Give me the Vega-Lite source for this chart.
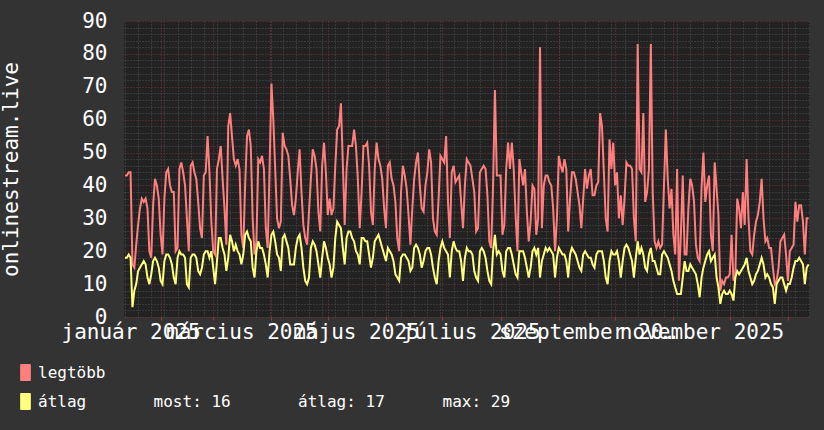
{
"$schema":"https://vega.github.io/schema/vega-lite/v6.json",
"width":686,"height":296,
"autosize":"none",
"padding":{"left":124,"top":21,"right":14,"bottom":113},
"background":"#333333",
"config":{
 "view":{"fill":"#222222","stroke":null},
 "font":"DejaVu Sans Mono",
 "axis":{"labelFont":"DejaVu Sans Mono","titleFont":"DejaVu Sans Mono","labelColor":"#ffffff","titleColor":"#ffffff","domain":false,"labelFontSize":21,"titleFontSize":21,"titleFontWeight":"normal","labelFontWeight":"normal"}
},
"datasets":{"t":[
{"d":"2025-01-13","m":43,"a":18},{"d":"2025-01-14","m":43,"a":18},{"d":"2025-01-15","m":44,"a":19},{"d":"2025-01-16","m":44,"a":18},{"d":"2025-01-17","m":16,"a":3},{"d":"2025-01-18","m":15,"a":8},{"d":"2025-01-19","m":22,"a":10},{"d":"2025-01-20","m":28,"a":14},{"d":"2025-01-21","m":33,"a":15},{"d":"2025-01-22","m":36,"a":16},{"d":"2025-01-23","m":35,"a":17},{"d":"2025-01-24","m":36,"a":16},{"d":"2025-01-25","m":33,"a":12},{"d":"2025-01-26","m":20,"a":10},{"d":"2025-01-27","m":18,"a":13},{"d":"2025-01-28","m":34,"a":17},{"d":"2025-01-29","m":42,"a":18},{"d":"2025-01-30","m":40,"a":17},{"d":"2025-01-31","m":36,"a":15},
{"d":"2025-02-01","m":25,"a":11},{"d":"2025-02-02","m":19,"a":10},{"d":"2025-02-03","m":36,"a":17},{"d":"2025-02-04","m":44,"a":19},{"d":"2025-02-05","m":45,"a":19},{"d":"2025-02-06","m":40,"a":18},{"d":"2025-02-07","m":38,"a":16},{"d":"2025-02-08","m":38,"a":12},{"d":"2025-02-09","m":20,"a":10},{"d":"2025-02-10","m":21,"a":18},{"d":"2025-02-11","m":45,"a":20},{"d":"2025-02-12","m":47,"a":19},{"d":"2025-02-13","m":44,"a":19},{"d":"2025-02-14","m":40,"a":18},{"d":"2025-02-15","m":30,"a":10},{"d":"2025-02-16","m":20,"a":9},{"d":"2025-02-17","m":46,"a":18},{"d":"2025-02-18","m":47,"a":19},{"d":"2025-02-19","m":44,"a":19},{"d":"2025-02-20","m":42,"a":18},{"d":"2025-02-21","m":35,"a":14},{"d":"2025-02-22","m":27,"a":13},{"d":"2025-02-23","m":24,"a":15},{"d":"2025-02-24","m":43,"a":19},{"d":"2025-02-25","m":44,"a":20},{"d":"2025-02-26","m":55,"a":20},{"d":"2025-02-27","m":44,"a":18},{"d":"2025-02-28","m":29,"a":20},
{"d":"2025-03-01","m":20,"a":15},{"d":"2025-03-02","m":19,"a":10},{"d":"2025-03-03","m":45,"a":17},{"d":"2025-03-04","m":48,"a":24},{"d":"2025-03-05","m":52,"a":24},{"d":"2025-03-06","m":42,"a":21},{"d":"2025-03-07","m":33,"a":19},{"d":"2025-03-08","m":22,"a":14},{"d":"2025-03-09","m":58,"a":18},{"d":"2025-03-10","m":62,"a":25},{"d":"2025-03-11","m":55,"a":23},{"d":"2025-03-12","m":48,"a":20},{"d":"2025-03-13","m":46,"a":22},{"d":"2025-03-14","m":48,"a":20},{"d":"2025-03-15","m":45,"a":19},{"d":"2025-03-16","m":25,"a":16},{"d":"2025-03-17","m":21,"a":19},{"d":"2025-03-18","m":40,"a":25},{"d":"2025-03-19","m":55,"a":26},{"d":"2025-03-20","m":57,"a":24},{"d":"2025-03-21","m":52,"a":23},{"d":"2025-03-22","m":30,"a":15},{"d":"2025-03-23","m":19,"a":12},{"d":"2025-03-24","m":23,"a":20},{"d":"2025-03-25","m":48,"a":23},{"d":"2025-03-26","m":47,"a":21},{"d":"2025-03-27","m":49,"a":21},{"d":"2025-03-28","m":45,"a":19},{"d":"2025-03-29","m":27,"a":16},{"d":"2025-03-30","m":21,"a":12},{"d":"2025-03-31","m":45,"a":20},
{"d":"2025-04-01","m":71,"a":25},{"d":"2025-04-02","m":60,"a":26},{"d":"2025-04-03","m":45,"a":23},{"d":"2025-04-04","m":30,"a":19},{"d":"2025-04-05","m":27,"a":18},{"d":"2025-04-06","m":29,"a":14},{"d":"2025-04-07","m":56,"a":24},{"d":"2025-04-08","m":52,"a":25},{"d":"2025-04-09","m":51,"a":23},{"d":"2025-04-10","m":49,"a":21},{"d":"2025-04-11","m":42,"a":16},{"d":"2025-04-12","m":34,"a":16},{"d":"2025-04-13","m":31,"a":16},{"d":"2025-04-14","m":36,"a":21},{"d":"2025-04-15","m":44,"a":24},{"d":"2025-04-16","m":51,"a":25},{"d":"2025-04-17","m":38,"a":21},{"d":"2025-04-18","m":28,"a":15},{"d":"2025-04-19","m":24,"a":11},{"d":"2025-04-20","m":22,"a":10},{"d":"2025-04-21","m":32,"a":12},{"d":"2025-04-22","m":42,"a":21},{"d":"2025-04-23","m":51,"a":23},{"d":"2025-04-24","m":49,"a":22},{"d":"2025-04-25","m":45,"a":20},{"d":"2025-04-26","m":32,"a":16},{"d":"2025-04-27","m":26,"a":12},{"d":"2025-04-28","m":46,"a":18},{"d":"2025-04-29","m":53,"a":23},{"d":"2025-04-30","m":44,"a":21},
{"d":"2025-05-01","m":31,"a":18},{"d":"2025-05-02","m":36,"a":16},{"d":"2025-05-03","m":31,"a":12},{"d":"2025-05-04","m":33,"a":15},{"d":"2025-05-05","m":46,"a":24},{"d":"2025-05-06","m":57,"a":29},{"d":"2025-05-07","m":58,"a":28},{"d":"2025-05-08","m":65,"a":27},{"d":"2025-05-09","m":47,"a":21},{"d":"2025-05-10","m":28,"a":16},{"d":"2025-05-11","m":45,"a":24},{"d":"2025-05-12","m":52,"a":26},{"d":"2025-05-13","m":52,"a":26},{"d":"2025-05-14","m":52,"a":24},{"d":"2025-05-15","m":57,"a":23},{"d":"2025-05-16","m":52,"a":20},{"d":"2025-05-17","m":42,"a":19},{"d":"2025-05-18","m":27,"a":16},{"d":"2025-05-19","m":38,"a":24},{"d":"2025-05-20","m":52,"a":24},{"d":"2025-05-21","m":52,"a":23},{"d":"2025-05-22","m":53,"a":23},{"d":"2025-05-23","m":46,"a":19},{"d":"2025-05-24","m":32,"a":15},{"d":"2025-05-25","m":28,"a":18},{"d":"2025-05-26","m":45,"a":23},{"d":"2025-05-27","m":53,"a":24},{"d":"2025-05-28","m":48,"a":25},{"d":"2025-05-29","m":46,"a":23},{"d":"2025-05-30","m":42,"a":21},{"d":"2025-05-31","m":33,"a":19},
{"d":"2025-06-01","m":27,"a":17},{"d":"2025-06-02","m":46,"a":21},{"d":"2025-06-03","m":47,"a":20},{"d":"2025-06-04","m":42,"a":19},{"d":"2025-06-05","m":40,"a":17},{"d":"2025-06-06","m":35,"a":13},{"d":"2025-06-07","m":24,"a":12},{"d":"2025-06-08","m":20,"a":11},{"d":"2025-06-09","m":38,"a":18},{"d":"2025-06-10","m":46,"a":19},{"d":"2025-06-11","m":43,"a":19},{"d":"2025-06-12","m":39,"a":18},{"d":"2025-06-13","m":31,"a":17},{"d":"2025-06-14","m":22,"a":14},{"d":"2025-06-15","m":33,"a":15},{"d":"2025-06-16","m":42,"a":21},{"d":"2025-06-17","m":47,"a":22},{"d":"2025-06-18","m":50,"a":21},{"d":"2025-06-19","m":40,"a":19},{"d":"2025-06-20","m":33,"a":15},{"d":"2025-06-21","m":32,"a":17},{"d":"2025-06-22","m":40,"a":20},{"d":"2025-06-23","m":44,"a":21},{"d":"2025-06-24","m":51,"a":21},{"d":"2025-06-25","m":47,"a":19},{"d":"2025-06-26","m":30,"a":15},{"d":"2025-06-27","m":26,"a":12},{"d":"2025-06-28","m":25,"a":10},{"d":"2025-06-29","m":36,"a":17},{"d":"2025-06-30","m":49,"a":21},
{"d":"2025-07-01","m":48,"a":23},{"d":"2025-07-02","m":47,"a":21},{"d":"2025-07-03","m":55,"a":20},{"d":"2025-07-04","m":35,"a":19},{"d":"2025-07-05","m":24,"a":12},{"d":"2025-07-06","m":44,"a":20},{"d":"2025-07-07","m":46,"a":23},{"d":"2025-07-08","m":41,"a":21},{"d":"2025-07-09","m":42,"a":20},{"d":"2025-07-10","m":43,"a":20},{"d":"2025-07-11","m":35,"a":17},{"d":"2025-07-12","m":27,"a":11},{"d":"2025-07-13","m":40,"a":18},{"d":"2025-07-14","m":48,"a":21},{"d":"2025-07-15","m":47,"a":20},{"d":"2025-07-16","m":46,"a":20},{"d":"2025-07-17","m":42,"a":19},{"d":"2025-07-18","m":38,"a":14},{"d":"2025-07-19","m":26,"a":12},{"d":"2025-07-20","m":27,"a":11},{"d":"2025-07-21","m":44,"a":20},{"d":"2025-07-22","m":45,"a":21},{"d":"2025-07-23","m":46,"a":20},{"d":"2025-07-24","m":45,"a":18},{"d":"2025-07-25","m":37,"a":14},{"d":"2025-07-26","m":23,"a":11},{"d":"2025-07-27","m":21,"a":10},{"d":"2025-07-28","m":40,"a":20},{"d":"2025-07-29","m":69,"a":25},{"d":"2025-07-30","m":43,"a":19},{"d":"2025-07-31","m":43,"a":20},
{"d":"2025-08-01","m":43,"a":19},{"d":"2025-08-02","m":25,"a":14},{"d":"2025-08-03","m":28,"a":12},{"d":"2025-08-04","m":45,"a":20},{"d":"2025-08-05","m":53,"a":21},{"d":"2025-08-06","m":45,"a":21},{"d":"2025-08-07","m":53,"a":19},{"d":"2025-08-08","m":45,"a":16},{"d":"2025-08-09","m":31,"a":13},{"d":"2025-08-10","m":20,"a":12},{"d":"2025-08-11","m":48,"a":20},{"d":"2025-08-12","m":44,"a":20},{"d":"2025-08-13","m":40,"a":20},{"d":"2025-08-14","m":45,"a":18},{"d":"2025-08-15","m":32,"a":15},{"d":"2025-08-16","m":23,"a":12},{"d":"2025-08-17","m":29,"a":15},{"d":"2025-08-18","m":40,"a":20},{"d":"2025-08-19","m":39,"a":21},{"d":"2025-08-20","m":25,"a":19},{"d":"2025-08-21","m":30,"a":21},{"d":"2025-08-22","m":82,"a":12},{"d":"2025-08-23","m":27,"a":17},{"d":"2025-08-24","m":40,"a":19},{"d":"2025-08-25","m":43,"a":21},{"d":"2025-08-26","m":43,"a":20},{"d":"2025-08-27","m":41,"a":21},{"d":"2025-08-28","m":40,"a":20},{"d":"2025-08-29","m":33,"a":19},{"d":"2025-08-30","m":20,"a":12},{"d":"2025-08-31","m":30,"a":18},
{"d":"2025-09-01","m":49,"a":21},{"d":"2025-09-02","m":46,"a":20},{"d":"2025-09-03","m":44,"a":19},{"d":"2025-09-04","m":48,"a":19},{"d":"2025-09-05","m":45,"a":17},{"d":"2025-09-06","m":26,"a":12},{"d":"2025-09-07","m":36,"a":19},{"d":"2025-09-08","m":44,"a":21},{"d":"2025-09-09","m":44,"a":20},{"d":"2025-09-10","m":42,"a":19},{"d":"2025-09-11","m":38,"a":17},{"d":"2025-09-12","m":34,"a":15},{"d":"2025-09-13","m":27,"a":14},{"d":"2025-09-14","m":36,"a":19},{"d":"2025-09-15","m":45,"a":20},{"d":"2025-09-16","m":39,"a":19},{"d":"2025-09-17","m":43,"a":18},{"d":"2025-09-18","m":45,"a":18},{"d":"2025-09-19","m":37,"a":16},{"d":"2025-09-20","m":37,"a":15},{"d":"2025-09-21","m":40,"a":19},{"d":"2025-09-22","m":41,"a":20},{"d":"2025-09-23","m":62,"a":20},{"d":"2025-09-24","m":58,"a":20},{"d":"2025-09-25","m":44,"a":17},{"d":"2025-09-26","m":30,"a":12},{"d":"2025-09-27","m":26,"a":10},{"d":"2025-09-28","m":54,"a":17},{"d":"2025-09-29","m":45,"a":20},{"d":"2025-09-30","m":53,"a":19},
{"d":"2025-10-01","m":40,"a":19},{"d":"2025-10-02","m":44,"a":20},{"d":"2025-10-03","m":30,"a":17},{"d":"2025-10-04","m":37,"a":12},{"d":"2025-10-05","m":28,"a":17},{"d":"2025-10-06","m":36,"a":21},{"d":"2025-10-07","m":47,"a":22},{"d":"2025-10-08","m":46,"a":21},{"d":"2025-10-09","m":46,"a":19},{"d":"2025-10-10","m":45,"a":17},{"d":"2025-10-11","m":30,"a":12},{"d":"2025-10-12","m":23,"a":18},{"d":"2025-10-13","m":83,"a":23},{"d":"2025-10-14","m":45,"a":19},{"d":"2025-10-15","m":44,"a":21},{"d":"2025-10-16","m":62,"a":19},{"d":"2025-10-17","m":35,"a":15},{"d":"2025-10-18","m":38,"a":14},{"d":"2025-10-19","m":45,"a":19},{"d":"2025-10-20","m":83,"a":21},{"d":"2025-10-21","m":38,"a":17},{"d":"2025-10-22","m":23,"a":17},{"d":"2025-10-23","m":21,"a":15},{"d":"2025-10-24","m":23,"a":13},{"d":"2025-10-25","m":21,"a":13},{"d":"2025-10-26","m":22,"a":19},{"d":"2025-10-27","m":40,"a":20},{"d":"2025-10-28","m":57,"a":19},{"d":"2025-10-29","m":42,"a":18},{"d":"2025-10-30","m":33,"a":16},{"d":"2025-10-31","m":39,"a":14},
{"d":"2025-11-01","m":25,"a":11},{"d":"2025-11-02","m":19,"a":9},{"d":"2025-11-03","m":45,"a":7},{"d":"2025-11-04","m":11,"a":7},{"d":"2025-11-05","m":25,"a":7},{"d":"2025-11-06","m":43,"a":12},{"d":"2025-11-07","m":19,"a":17},{"d":"2025-11-08","m":19,"a":14},{"d":"2025-11-09","m":33,"a":14},{"d":"2025-11-10","m":42,"a":16},{"d":"2025-11-11","m":40,"a":15},{"d":"2025-11-12","m":35,"a":14},{"d":"2025-11-13","m":22,"a":13},{"d":"2025-11-14","m":18,"a":10},{"d":"2025-11-15","m":17,"a":6},{"d":"2025-11-16","m":39,"a":12},{"d":"2025-11-17","m":50,"a":15},{"d":"2025-11-18","m":35,"a":17},{"d":"2025-11-19","m":40,"a":19},{"d":"2025-11-20","m":43,"a":20},{"d":"2025-11-21","m":25,"a":17},{"d":"2025-11-22","m":20,"a":18},{"d":"2025-11-23","m":47,"a":19},{"d":"2025-11-24","m":39,"a":12},{"d":"2025-11-25","m":31,"a":9},{"d":"2025-11-26","m":8,"a":4},{"d":"2025-11-27","m":11,"a":7},{"d":"2025-11-28","m":10,"a":8},{"d":"2025-11-29","m":12,"a":7},{"d":"2025-11-30","m":12,"a":7},
{"d":"2025-12-01","m":13,"a":8},{"d":"2025-12-02","m":25,"a":7},{"d":"2025-12-03","m":11,"a":5},{"d":"2025-12-04","m":13,"a":12},{"d":"2025-12-05","m":36,"a":14},{"d":"2025-12-06","m":33,"a":13},{"d":"2025-12-07","m":27,"a":14},{"d":"2025-12-08","m":38,"a":15},{"d":"2025-12-09","m":28,"a":16},{"d":"2025-12-10","m":48,"a":18},{"d":"2025-12-11","m":30,"a":14},{"d":"2025-12-12","m":20,"a":12},{"d":"2025-12-13","m":19,"a":10},{"d":"2025-12-14","m":25,"a":11},{"d":"2025-12-15","m":29,"a":13},{"d":"2025-12-16","m":31,"a":14},{"d":"2025-12-17","m":35,"a":16},{"d":"2025-12-18","m":42,"a":18},{"d":"2025-12-19","m":30,"a":16},{"d":"2025-12-20","m":23,"a":12},{"d":"2025-12-21","m":24,"a":13},{"d":"2025-12-22","m":21,"a":12},{"d":"2025-12-23","m":21,"a":10},{"d":"2025-12-24","m":15,"a":9},{"d":"2025-12-25","m":10,"a":4},{"d":"2025-12-26","m":11,"a":10},{"d":"2025-12-27","m":15,"a":11},{"d":"2025-12-28","m":23,"a":12},{"d":"2025-12-29","m":24,"a":12},{"d":"2025-12-30","m":25,"a":10},{"d":"2025-12-31","m":19,"a":8},
{"d":"2026-01-01","m":11,"a":10},{"d":"2026-01-02","m":20,"a":10},{"d":"2026-01-03","m":21,"a":12},{"d":"2026-01-04","m":22,"a":15},{"d":"2026-01-05","m":35,"a":17},{"d":"2026-01-06","m":29,"a":17},{"d":"2026-01-07","m":34,"a":18},{"d":"2026-01-08","m":34,"a":17},{"d":"2026-01-09","m":29,"a":16},{"d":"2026-01-10","m":19,"a":10},{"d":"2026-01-11","m":30,"a":15},{"d":"2026-01-12","m":30,"a":16}
]},
"data":{"name":"t"},
"layer":[
 {
  "mark":{"type":"line","strokeWidth":2,"color":"#ff7f7f"},
  "encoding":{
   "x":{"field":"d","type":"temporal",
    "scale":{"domain":[{"year":2025,"month":1,"date":12,"hours":12},{"year":2026,"month":1,"date":12,"hours":18}]},
    "axis":{"orient":"bottom","title":null,"labels":false,"ticks":false,"domain":false,"grid":true,"gridColor":"#505050","gridDash":[1,2],"gridWidth":1,
     "values":[{"year":2025,"month":1,"date":13},{"year":2025,"month":1,"date":20},{"year":2025,"month":1,"date":27},{"year":2025,"month":2,"date":3},{"year":2025,"month":2,"date":10},{"year":2025,"month":2,"date":17},{"year":2025,"month":2,"date":24},{"year":2025,"month":3,"date":3},{"year":2025,"month":3,"date":10},{"year":2025,"month":3,"date":17},{"year":2025,"month":3,"date":24},{"year":2025,"month":3,"date":31},{"year":2025,"month":4,"date":7},{"year":2025,"month":4,"date":14},{"year":2025,"month":4,"date":21},{"year":2025,"month":4,"date":28},{"year":2025,"month":5,"date":5},{"year":2025,"month":5,"date":12},{"year":2025,"month":5,"date":19},{"year":2025,"month":5,"date":26},{"year":2025,"month":6,"date":2},{"year":2025,"month":6,"date":9},{"year":2025,"month":6,"date":16},{"year":2025,"month":6,"date":23},{"year":2025,"month":6,"date":30},{"year":2025,"month":7,"date":7},{"year":2025,"month":7,"date":14},{"year":2025,"month":7,"date":21},{"year":2025,"month":7,"date":28},{"year":2025,"month":8,"date":4},{"year":2025,"month":8,"date":11},{"year":2025,"month":8,"date":18},{"year":2025,"month":8,"date":25},{"year":2025,"month":9,"date":1},{"year":2025,"month":9,"date":8},{"year":2025,"month":9,"date":15},{"year":2025,"month":9,"date":22},{"year":2025,"month":9,"date":29},{"year":2025,"month":10,"date":6},{"year":2025,"month":10,"date":13},{"year":2025,"month":10,"date":20},{"year":2025,"month":10,"date":27},{"year":2025,"month":11,"date":3},{"year":2025,"month":11,"date":10},{"year":2025,"month":11,"date":17},{"year":2025,"month":11,"date":24},{"year":2025,"month":12,"date":1},{"year":2025,"month":12,"date":8},{"year":2025,"month":12,"date":15},{"year":2025,"month":12,"date":22},{"year":2025,"month":12,"date":29},{"year":2026,"month":1,"date":5},{"year":2026,"month":1,"date":12}]}},
   "y":{"field":"m","type":"quantitative","scale":{"domain":[0,90]},
    "axis":{"orient":"left","title":null,"labels":false,"ticks":false,"domain":false,"grid":true,"gridColor":"#505050","gridDash":[1,2],"gridWidth":1,
     "values":[2,4,6,8,12,14,16,18,22,24,26,28,32,34,36,38,42,44,46,48,52,54,56,58,62,64,66,68,72,74,76,78,82,84,86,88]}},
   "color":{"datum":"legtöbb","type":"nominal",
    "scale":{"domain":["legtöbb","átlag"],"range":["#ff7f7f","#ffff7f"]},
    "legend":{"title":null,"orient":"none","legendX":-107,"legendY":343,"direction":"vertical","padding":0,
     "symbolType":"M-0.6,-1H0.6V1H-0.6Z","symbolSize":256,"symbolStrokeWidth":1,"symbolStrokeColor":"#000000","symbolOpacity":1,
     "labelFont":"DejaVu Sans Mono","labelFontSize":16,"labelColor":"#ffffff","labelOffset":4,"rowPadding":8,"labelLimit":1000,
     "labelExpr":"datum.label == 'átlag' ? 'átlag\u00a0\u00a0\u00a0\u00a0\u00a0\u00a0\u00a0most: 16\u00a0\u00a0\u00a0\u00a0\u00a0\u00a0\u00a0átlag: 17\u00a0\u00a0\u00a0\u00a0\u00a0\u00a0max: 29' : datum.label",
     "encode":{"symbols":{"update":{"fill":{"scale":"color","field":"value"},"stroke":{"value":"#000000"},"strokeWidth":{"value":1},"opacity":{"value":1}}}}}}
  }
 },
 {
  "mark":{"type":"line","strokeWidth":2,"color":"#ffff7f"},
  "encoding":{
   "x":{"field":"d","type":"temporal",
    "axis":{"orient":"bottom","title":null,"labels":false,"ticks":true,"tickColor":"#a03a3a","tickSize":3,"domain":false,"grid":true,"gridColor":"#7d3434","gridDash":[1,2],"gridWidth":1,
     "tickCount":{"interval":"month","step":1}}},
   "y":{"field":"a","type":"quantitative",
    "axis":{"orient":"left","title":"onlinestream.live","titlePadding":60,"ticks":false,"domain":false,"labelPadding":17,"grid":true,"gridColor":"#7d3434","gridDash":[1,2],"gridWidth":1,
     "values":[0,10,20,30,40,50,60,70,80,90]}},
   "color":{"datum":"átlag","type":"nominal"}
  }
 },
 {
  "data":{"values":[]},
  "mark":{"type":"rule"},
  "encoding":{
   "x":{"field":"d","type":"temporal",
    "axis":{"orient":"bottom","title":null,"grid":false,"ticks":false,"domain":false,"labelPadding":4,"labelOverlap":false,"labelFlush":false,"labelBound":false,"labelAlign":"center",
     "values":[{"year":2025,"month":1,"date":16},{"year":2025,"month":3,"date":16},{"year":2025,"month":5,"date":16},{"year":2025,"month":7,"date":16},{"year":2025,"month":9,"date":16},{"year":2025,"month":11,"date":16}],
     "labelExpr":"['január','február','március','április','május','június','július','augusztus','szeptember','október','november','december'][month(datum.value)] + ' ' + year(datum.value)"}}
  }
 }
],
"resolve":{"axis":{"x":"independent","y":"independent"}}
}
